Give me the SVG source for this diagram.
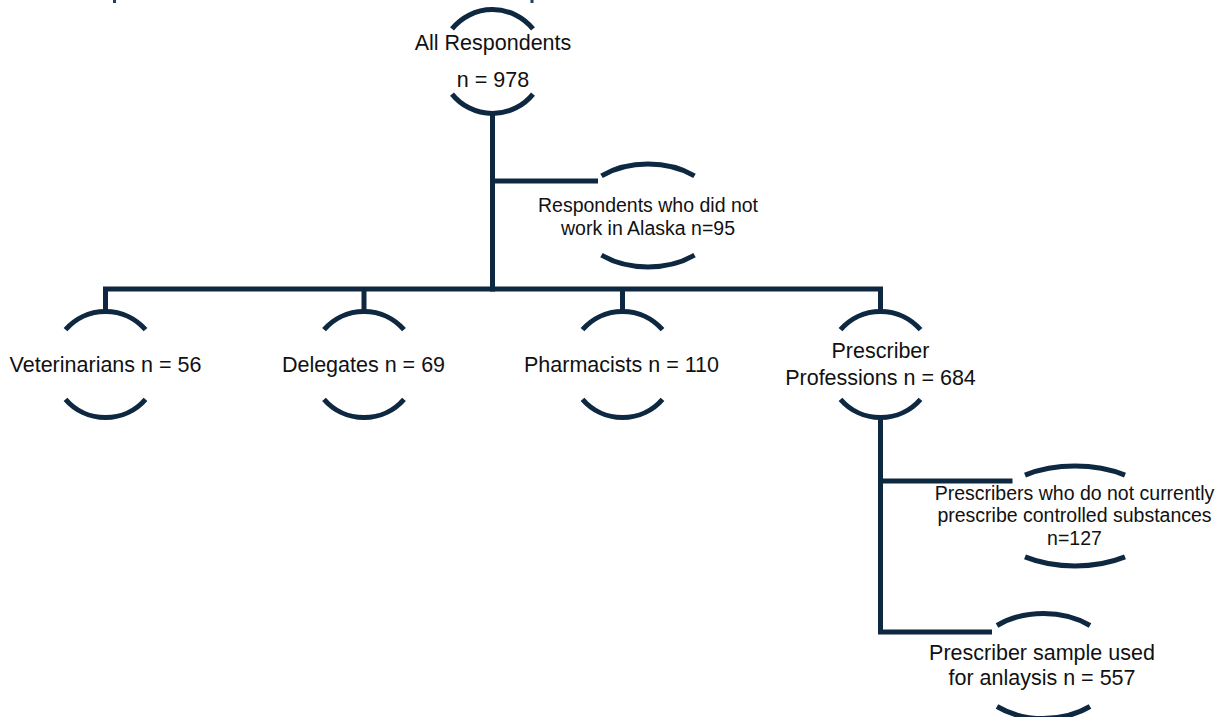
<svg xmlns="http://www.w3.org/2000/svg" width="1229" height="717" viewBox="0 0 1229 717">
  <style>
    .arc { fill: none; stroke: #0e2841; stroke-width: 5; }
    .ln { fill: none; stroke: #0e2841; stroke-width: 5; stroke-linecap: butt; stroke-linejoin: miter; }
    .t { font-family: "Liberation Sans", Arial, sans-serif; font-size: 21.5px; fill: #111111; text-anchor: middle; }
    .s { font-size: 19.5px; }
    .frag { fill: #1f3f66; }
  </style>
  <rect width="1229" height="717" fill="#ffffff"/>
  <g id="title-fragments">
    <rect class="frag" x="113" y="0" width="3" height="3"/>
    <rect class="frag" x="530.5" y="0" width="3" height="3"/>
  </g>
  <g id="connectors">
    <path class="ln" d="M492.5 113 V291.5"/>
    <path class="ln" d="M492.5 181 H598"/>
    <path class="ln" d="M105.5 312 V289 H880.5 V312"/>
    <path class="ln" d="M364 289 V312"/>
    <path class="ln" d="M622.5 289 V312"/>
    <path class="ln" d="M880.5 416 V632 H992"/>
    <path class="ln" d="M880.5 481 H1012.5"/>
  </g>
  <g id="node-all">
    <path class="arc" d="M452 28.9 A52 52 0 0 1 533 28.9"/>
    <path class="arc" d="M452 94.1 A52 52 0 0 0 533 94.1"/>
    <text class="t" x="493" y="50">All Respondents</text>
    <text class="t" x="493" y="87">n = 978</text>
  </g>
  <g id="node-not-alaska">
    <path class="arc" d="M601.5 175.8 A73 51.5 0 0 1 694.5 175.8"/>
    <path class="arc" d="M601.5 255.2 A73 51.5 0 0 0 694.5 255.2"/>
    <text class="t s" x="648" y="211.5">Respondents who did not</text>
    <text class="t s" x="648" y="235">work in Alaska n=95</text>
  </g>
  <g id="node-veterinarians">
    <path class="arc" d="M65.5 329.7 A53 53 0 0 1 145.5 329.7"/>
    <path class="arc" d="M65.5 399.3 A53 53 0 0 0 145.5 399.3"/>
    <text class="t" x="105.5" y="372">Veterinarians n = 56</text>
  </g>
  <g id="node-delegates">
    <path class="arc" d="M324 329.7 A53 53 0 0 1 404 329.7"/>
    <path class="arc" d="M324 399.3 A53 53 0 0 0 404 399.3"/>
    <text class="t" x="363.5" y="372">Delegates n = 69</text>
  </g>
  <g id="node-pharmacists">
    <path class="arc" d="M582.5 329.7 A53 53 0 0 1 662.5 329.7"/>
    <path class="arc" d="M582.5 399.3 A53 53 0 0 0 662.5 399.3"/>
    <text class="t" x="621.5" y="372">Pharmacists n = 110</text>
  </g>
  <g id="node-prescribers">
    <path class="arc" d="M840.5 329.7 A53 53 0 0 1 920.5 329.7"/>
    <path class="arc" d="M840.5 399.3 A53 53 0 0 0 920.5 399.3"/>
    <text class="t" x="880.5" y="358">Prescriber</text>
    <text class="t" x="880.5" y="385">Professions n = 684</text>
  </g>
  <g id="node-no-controlled">
    <path class="arc" d="M1025 475.1 A87 50 0 0 1 1125 475.1"/>
    <path class="arc" d="M1025 556.9 A87 50 0 0 0 1125 556.9"/>
    <text class="t s" x="1074.5" y="499.5">Prescribers who do not currently</text>
    <text class="t s" x="1074.5" y="522">prescribe controlled substances</text>
    <text class="t s" x="1074.5" y="545">n=127</text>
  </g>
  <g id="node-sample">
    <path class="arc" d="M997 625.5 A73 52.5 0 0 1 1090 625.5"/>
    <path class="arc" d="M997 706.5 A73 52.5 0 0 0 1090 706.5"/>
    <text class="t" x="1042" y="660">Prescriber sample used</text>
    <text class="t" x="1042" y="685">for anlaysis n = 557</text>
  </g>
</svg>
